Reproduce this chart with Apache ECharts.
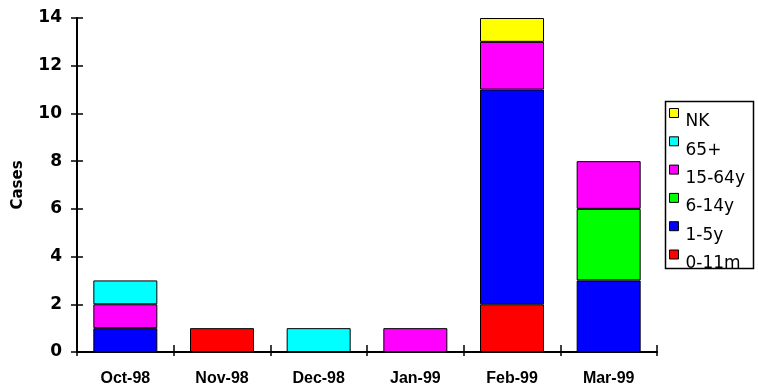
<!DOCTYPE html>
<html>
<head>
<meta charset="utf-8">
<script src="https://cdn.jsdelivr.net/npm/echarts@6/dist/echarts.min.js"></script>
<style>
html, body { margin: 0; padding: 0; background: #fff; }
#chart { width: 758px; height: 387px; }
</style>
</head>
<body>
<div id="chart"></div>
<script>
// months and cases by age group
var months = ['Oct-98', 'Nov-98', 'Dec-98', 'Jan-99', 'Feb-99', 'Mar-99'];
var age0to11m = [0, 1, 0, 0, 2, 0];
var age1to5y = [1, 0, 0, 0, 9, 3];
var age6to14y = [0, 0, 0, 0, 0, 3];
var age15to64y = [1, 0, 0, 1, 2, 2];
var age65plus = [1, 0, 1, 0, 0, 0];
var ageNK = [0, 0, 0, 0, 1, 0];
var yTicks = [0, 2, 4, 6, 8, 10, 12, 14];

var myChart = echarts.init(document.getElementById('chart'));

function barSeries(name, color, data) {
    return {
        name: name,
        type: 'bar',
        stack: 'cases',
        barWidth: 64,
        itemStyle: { color: color, borderColor: '#000', borderWidth: 1 },
        // zero segments are left out so they don't draw a border line
        data: data.map(function (v) { return v === 0 ? '-' : v; })
    };
}

var option = {
    animation: false,
    backgroundColor: '#fff',
    grid: { left: 77, right: 101, top: 18, bottom: 35 },
    legend: {
        orient: 'vertical',
        left: 669,
        top: 95,
        padding: 0,
        itemGap: -7.7,
        itemWidth: 9,
        itemHeight: 9,
        icon: 'rect',
        itemStyle: { borderColor: '#000', borderWidth: 1 },
        formatter: function (name) {
            return '\n' + name; //文字比图标低一些
        },
        textStyle: {
            fontFamily: 'DejaVu Sans',
            fontSize: 17,
            lineHeight: 18,
            color: '#000',
            padding: [0, 0, 0, 2]
        },
        data: ['NK', '65+', '15-64y', '6-14y', '1-5y', '0-11m']
    },
    graphic: [{
        type: 'rect',
        left: 663,
        top: 99,
        shape: { width: 88, height: 167 },
        style: { fill: 'none', stroke: '#000', lineWidth: 1.5 },
        z: 10
    }],
    xAxis: [{
        type: 'category',
        data: months,
        axisLine: { lineStyle: { color: '#000', width: 2 } },
        axisTick: { show: true, length: 4, lineStyle: { color: '#000', width: 1.5 } },
        axisLabel: { fontFamily: 'Liberation Sans, Arial', fontWeight: 'bold', fontSize: 16, color: '#000', margin: 19 }
    }, {
        type: 'category',
        data: months,
        position: 'bottom',
        axisLine: { show: false },
        axisTick: { show: true, inside: true, length: 7, lineStyle: { color: '#000', width: 1.5 } },
        axisLabel: { show: false }
    }],
    yAxis: [{
        type: 'value',
        min: 0,
        max: yTicks[yTicks.length - 1],
        interval: 2,
        name: 'Cases',
        nameLocation: 'middle',
        nameGap: 51,
        nameTextStyle: { fontFamily: 'DejaVu Sans', fontWeight: 'bold', fontSize: 15, color: '#000' },
        axisLine: { show: true, lineStyle: { color: '#000', width: 2 } },
        axisTick: { show: true, length: 6, lineStyle: { color: '#000', width: 1.5 } },
        axisLabel: { fontFamily: 'DejaVu Sans', fontWeight: 'bold', fontSize: 17, color: '#000', margin: 15 },
        splitLine: { show: false }
    }, {
        type: 'value',
        min: 0,
        max: yTicks[yTicks.length - 1],
        interval: 2,
        position: 'left',
        axisLine: { show: false },
        axisTick: { show: true, inside: true, length: 6, lineStyle: { color: '#000', width: 1.5 } },
        axisLabel: { show: false },
        splitLine: { show: false }
    }],
    series: [
        barSeries('0-11m', '#ff0000', age0to11m),
        barSeries('1-5y', '#0000ff', age1to5y),
        barSeries('6-14y', '#00ff00', age6to14y),
        barSeries('15-64y', '#ff00ff', age15to64y),
        barSeries('65+', '#00ffff', age65plus),
        barSeries('NK', '#ffff00', ageNK)
    ]
};

myChart.setOption(option);
</script>
</body>
</html>
